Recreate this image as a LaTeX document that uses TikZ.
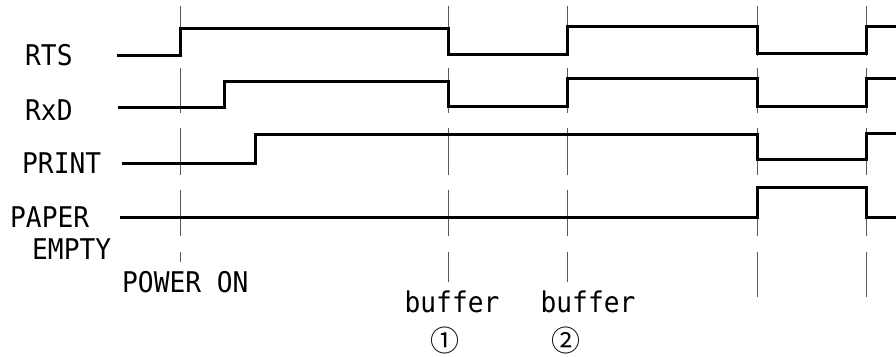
\documentclass[tikz,border=0pt]{standalone}
\usepackage{fontspec}
\newfontfamily\sigfont[FakeStretch=0.92]{DejaVu Sans Mono}
\newfontfamily\circfont{Noto Sans CJK JP}
\usepackage{xcolor}
\definecolor{cSig}{HTML}{000000}
\definecolor{cGuide}{HTML}{5A5A5A}
\usepackage{tikz}
\tikzset{
  sig-line/.style={line width=3pt,draw=cSig,line join=miter},
  guide-line/.style={line width=0.9pt,draw=cGuide},
  sig-name/.style={anchor=west,inner sep=0pt,font=\sigfont\fontsize{28.5}{30}\selectfont},
  event-name/.style={inner sep=0pt,font=\sigfont\fontsize{28.5}{30}\selectfont},
  event-num/.style={inner sep=0pt,font=\circfont\fontsize{29}{30}\selectfont},
}

\begin{document}
\begin{tikzpicture}[x=1pt,y=-1pt]
  \useasboundingbox (0,0) rectangle (896,356);
  % guides
  \foreach \gx/\gend in {180/262,448/282,567/282,757/297,866/297}{
    \draw[guide-line] (\gx,6)   -- (\gx,56);
    \draw[guide-line] (\gx,68)  -- (\gx,113);
    \draw[guide-line] (\gx,128) -- (\gx,175);
    \draw[guide-line] (\gx,190) -- (\gx,236);
    \draw[guide-line] (\gx,252) -- (\gx,\gend);
  }
  % signal names
  \node[sig-name] (rts)   at (25,55.5) {RTS};
  \node[sig-name] (rxd)   at (25,110)  {RxD};
  \node[sig-name] (print) at (22,163)  {PRINT};
  \node[sig-name] (paper) at (10,217)  {PAPER};
  \node[sig-name] (empty) at (32,249)  {EMPTY};
  % signals
  \draw[sig-line] (117,55) -- (180,55) -- (180,28) -- (448,28) -- (448,54)
    -- (567,54) -- (567,26) -- (757,26) -- (757,53) -- (866,53) -- (866,26)
    -- (896,26);
  \draw[sig-line] (118,107) -- (224,107) -- (224,81) -- (448,81) -- (448,106)
    -- (567,106) -- (567,78) -- (757,78) -- (757,106) -- (866,106) -- (866,78)
    -- (896,78);
  \draw[sig-line] (122,163) -- (255,163) -- (255,134) -- (757,134) -- (757,159)
    -- (866,159) -- (866,133) -- (896,133);
  \draw[sig-line] (120,217) -- (757,217) -- (757,187) -- (866,187) -- (866,217)
    -- (896,217);
  % events
  \node[sig-name]   (pwr)  at (122,282) {POWER ON};
  \node[event-name] (buf1) at (452,302) {buffer};
  \node[event-name] (buf2) at (588,302) {buffer};
  \node[event-num]  (num1) at (445,340) {①};
  \node[event-num]  (num2) at (566,340) {②};
\end{tikzpicture}
\end{document}
